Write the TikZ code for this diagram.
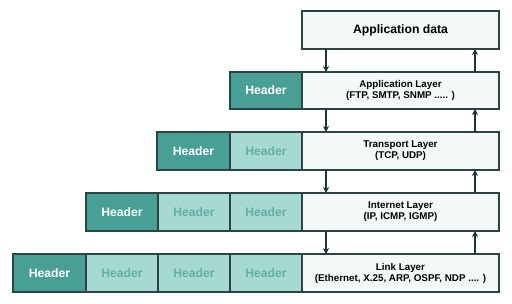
\documentclass[tikz,border=0pt]{standalone}
\usepackage{fontspec}
\setmainfont{Liberation Sans}
\usetikzlibrary{arrows.meta}
\definecolor{bordc}{HTML}{2B4543}
\definecolor{darkh}{HTML}{479F95}
\definecolor{lighth}{HTML}{A6D9CF}
\definecolor{lightt}{HTML}{62B0A6}
\definecolor{dataf}{HTML}{F3FAF9}
\definecolor{arrc}{HTML}{1A3533}
\tikzset{
  cell/.style={draw=bordc, line width=1.2pt, inner sep=0pt, outer sep=0pt, anchor=north west, font=\bfseries\fontsize{12.2}{13}\selectfont},
  darkcell/.style={cell, fill=darkh, text=white},
  lightcell/.style={cell, fill=lighth, text=lightt},
  datacell/.style={cell, fill=dataf, text=black, align=center, font=\bfseries\fontsize{9.8}{11}\selectfont},
  arr/.style={draw=arrc, line width=1.3pt, -{Stealth[length=6pt,width=6pt]}}
}
\begin{document}
\begin{tikzpicture}[x=1pt,y=-1pt]
\useasboundingbox (0,0) rectangle (512,303);
% Application data
\node[datacell, minimum width=197pt, minimum height=38pt, font=\bfseries\fontsize{12.2}{13}\selectfont] (d0) at (302,11) {Application data};
% Application layer
\node[darkcell, minimum width=72pt, minimum height=37pt] (h10) at (230,72) {Header};
\node[datacell, minimum width=197pt, minimum height=37pt] (d1) at (302,72) {Application Layer\\(FTP, SMTP, SNMP ..... )};
% Transport layer
\node[darkcell, minimum width=73pt, minimum height=38pt] (h20) at (157,132) {Header};
\node[lightcell, minimum width=72pt, minimum height=38pt] (h21) at (230,132) {Header};
\node[datacell, minimum width=197pt, minimum height=38pt] (d2) at (302,132) {Transport Layer\\(TCP, UDP)};
% Internet layer
\node[darkcell, minimum width=72pt, minimum height=38pt] (h30) at (86,193) {Header};
\node[lightcell, minimum width=72pt, minimum height=38pt] (h31) at (158,193) {Header};
\node[lightcell, minimum width=72pt, minimum height=38pt] (h32) at (230,193) {Header};
\node[datacell, minimum width=197pt, minimum height=38pt] (d3) at (302,193) {Internet Layer\\(IP, ICMP, IGMP)};
% Link layer
\node[darkcell, minimum width=73pt, minimum height=38pt] (h40) at (13,254) {Header};
\node[lightcell, minimum width=72pt, minimum height=38pt] (h41) at (86,254) {Header};
\node[lightcell, minimum width=72pt, minimum height=38pt] (h42) at (158,254) {Header};
\node[lightcell, minimum width=72pt, minimum height=38pt] (h43) at (230,254) {Header};
\node[datacell, minimum width=197pt, minimum height=38pt] (d4) at (302,254) {Link Layer\\(Ethernet, X.25, ARP, OSPF, NDP .... )};
% arrow columns
\coordinate (dn) at (326,0);
\coordinate (up) at (475,0);
\draw[arr] (d0.south -| dn) -- (d1.north -| dn);
\draw[arr] (d1.south -| dn) -- (d2.north -| dn);
\draw[arr] (d2.south -| dn) -- (d3.north -| dn);
\draw[arr] (d3.south -| dn) -- (d4.north -| dn);
\draw[arr] (d4.north -| up) -- (d3.south -| up);
\draw[arr] (d3.north -| up) -- (d2.south -| up);
\draw[arr] (d2.north -| up) -- (d1.south -| up);
\draw[arr] (d1.north -| up) -- (d0.south -| up);
\end{tikzpicture}
\end{document}
